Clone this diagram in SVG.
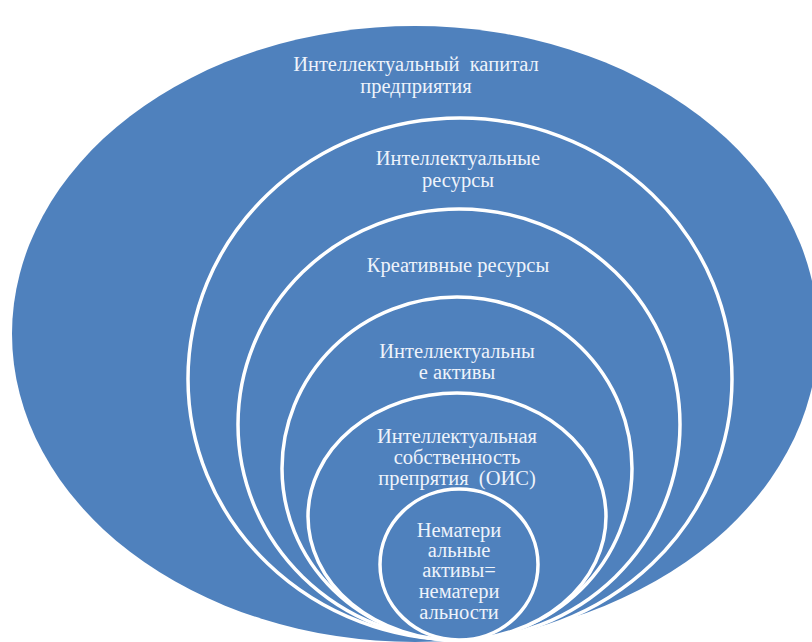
<svg xmlns="http://www.w3.org/2000/svg" width="812" height="642" viewBox="0 0 812 642">
  <style>
    .ring { fill: #4f81bd; stroke: #ffffff; stroke-width: 3.5; }
    .outer { fill: #4f81bd; stroke: none; }
    .lbl { font-family: "Liberation Serif", "DejaVu Serif", serif; font-size: 20.5px; fill: #eef3fb; text-anchor: middle; white-space: pre; }
  </style>
  <rect x="0" y="0" width="812" height="642" fill="#ffffff"/>
  <g id="node-capital">
    <ellipse class="outer" cx="415" cy="334" rx="403" ry="308"/>
    <text class="lbl" x="416" y="71" xml:space="preserve">Интеллектуальный  капитал</text>
    <text class="lbl" x="416" y="93">предприятия</text>
  </g>
  <g id="node-resources">
    <ellipse class="ring" cx="460" cy="379" rx="272" ry="261"/>
    <text class="lbl" x="458" y="165">Интеллектуальные</text>
    <text class="lbl" x="458" y="187">ресурсы</text>
  </g>
  <g id="node-creative">
    <ellipse class="ring" cx="459" cy="424.5" rx="221" ry="215.5"/>
    <text class="lbl" x="458" y="272">Креативные ресурсы</text>
  </g>
  <g id="node-assets">
    <ellipse class="ring" cx="457" cy="468.5" rx="175" ry="171.5"/>
    <text class="lbl" x="457" y="358">Интеллектуальны</text>
    <text class="lbl" x="457" y="379">е активы</text>
  </g>
  <g id="node-ip">
    <ellipse class="ring" cx="457" cy="516.5" rx="149" ry="123.5"/>
    <text class="lbl" x="457" y="443">Интеллектуальная</text>
    <text class="lbl" x="457" y="464">собственность</text>
    <text class="lbl" x="457" y="485" xml:space="preserve">препрятия  (ОИС)</text>
  </g>
  <g id="node-intangible">
    <ellipse class="ring" cx="459" cy="564.5" rx="79" ry="75.5"/>
    <text class="lbl" x="459" y="537">Нематери</text>
    <text class="lbl" x="459" y="557">альные</text>
    <text class="lbl" x="459" y="577">активы=</text>
    <text class="lbl" x="459" y="598">нематери</text>
    <text class="lbl" x="459" y="619">альности</text>
  </g>
  <g id="connectors"></g>
</svg>
